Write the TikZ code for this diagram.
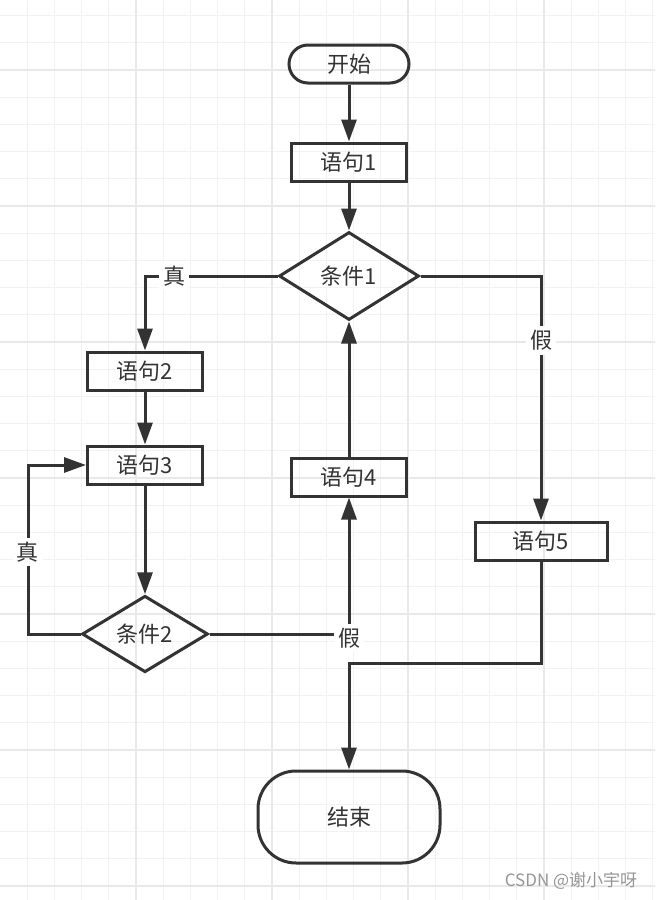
\documentclass[tikz,border=0pt]{standalone}
\usepackage{fontspec}
\setmainfont{Noto Sans CJK SC}
\usetikzlibrary{shapes.geometric,arrows.meta}
\definecolor{lineclr}{RGB}{51,51,51}
\definecolor{gridminor}{RGB}{242,242,242}
\definecolor{gridmajor}{RGB}{233,233,233}
\definecolor{markclr}{RGB}{150,150,150}

\tikzset{
  base/.style={draw=lineclr, line width=1.5pt, inner sep=0pt, text=lineclr,
    font=\fontsize{11}{13}\selectfont},
  stmt/.style={base, minimum width=57.5pt, minimum height=19pt},
  cond/.style={base, diamond},
  term/.style={base, rounded corners=9.5pt, minimum width=60pt, minimum height=19pt},
  endterm/.style={base, rounded corners=19pt, minimum width=91pt, minimum height=46pt},
  flow/.style={draw=lineclr, line width=1.5pt,
    -{Triangle[length=11pt,width=7.5pt]}},
  lbl/.style={fill=white, inner sep=2pt, text=lineclr,
    font=\fontsize{11}{13}\selectfont}
}

\begin{document}
\begin{tikzpicture}[x=0.5pt,y=-0.5pt]
  \def\gs{27.2}

  % Background and grid
  \fill[white] (0,0) rectangle (655,900);
  \useasboundingbox (0,0) rectangle (655,900);
  \foreach \k in {1,...,24}
    \draw[gridminor, line width=0.6pt] ({\gs*\k},0) -- ({\gs*\k},900);
  \foreach \k in {0,...,32}
    \draw[gridminor, line width=0.6pt] (0,{15.6+\gs*\k}) -- (655,{15.6+\gs*\k});
  \foreach \x in {136,272,408,544}
    \draw[gridmajor, line width=0.8pt] (\x,0) -- (\x,900);
  \foreach \y in {70,206,342,478,614,750,886}
    \draw[gridmajor, line width=0.8pt] (0,\y) -- (655,\y);

  % Nodes
  \node[term] (start) at (349,64) {开始};
  \node[stmt] (s1) at (349,162) {语句1};
  \node[cond, minimum width=70pt, minimum height=44pt] (c1) at (349,276) {条件1};
  \node[stmt] (s2) at (145,371) {语句2};
  \node[stmt] (s3) at (145,465) {语句3};
  \node[cond, minimum width=63pt, minimum height=37.5pt] (c2) at (145,634) {条件2};
  \node[stmt] (s4) at (349,477) {语句4};
  \node[stmt, minimum width=66pt] (s5) at (541,541) {语句5};
  \node[endterm] (stop) at (349,817) {结束};

  % Bends
  \coordinate (loop) at (28,634);
  \coordinate (join) at (349,663);

  % Connectors
  \draw[flow] (start) -- (s1);
  \draw[flow] (s1) -- (c1);
  \draw[flow] (c1.west) -| node[lbl, pos=0.39] {真} (s2.north);
  \draw[flow] (c1.east) -| node[lbl, pos=0.632] {假} (s5.north);
  \draw[flow] (s2) -- (s3);
  \draw[flow] (s3) -- (c2);
  \draw[flow] (c2.west) -- (loop) |- node[lbl, pos=0.243] {真} (s3.west);
  \draw[flow] (c2.east) -| node[lbl, pos=0.5, yshift=-2pt] {假} (s4.south);
  \draw[flow] (s4) -- (c1.south);
  \draw[flow] (s5.south) |- (join) -- (stop.north);

  % Watermark
  \node[text=markclr, font=\fontsize{8.5}{10}\selectfont] (mark) at (571,881) {CSDN @谢小宇呀};
\end{tikzpicture}
\end{document}
